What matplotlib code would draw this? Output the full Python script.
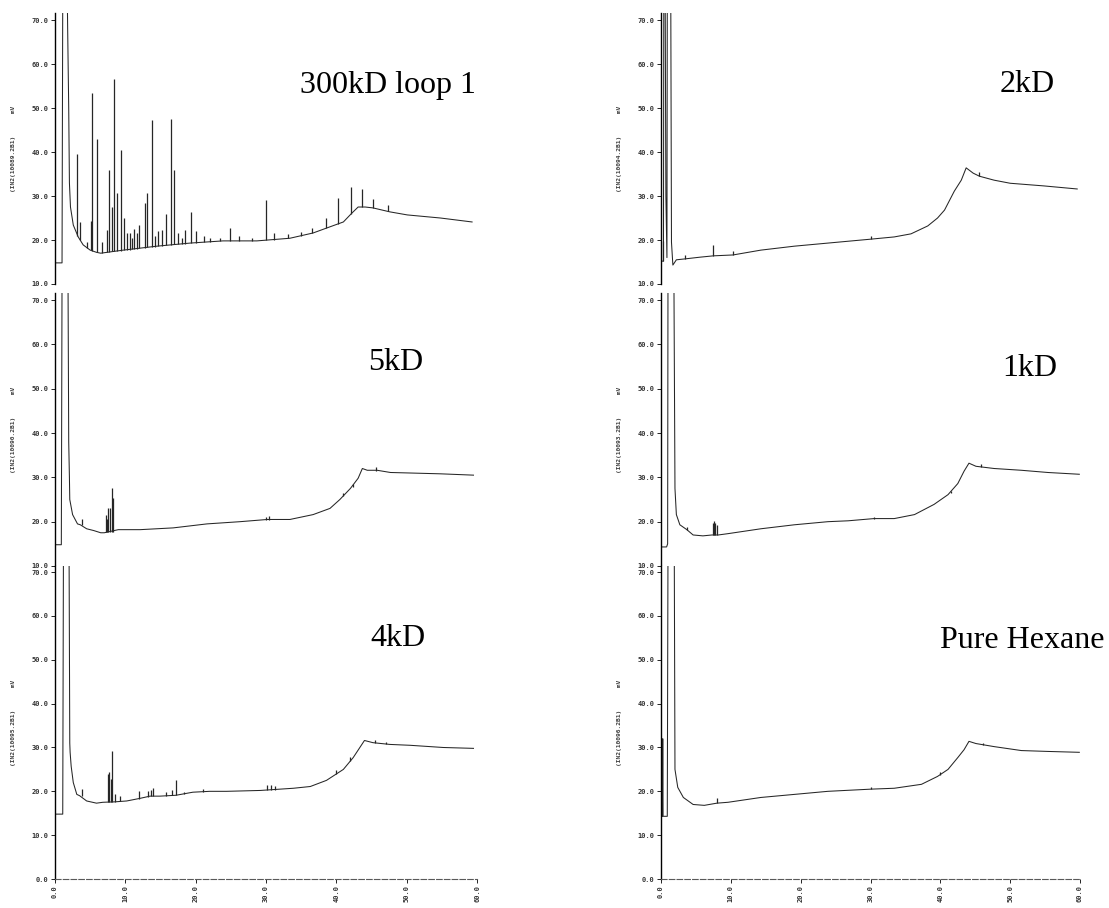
import matplotlib
matplotlib.use("Agg")
import matplotlib.pyplot as plt

W, H = 1109, 908

# retention time (min) / detector signal (mV)
# 300kD loop 1
b300_t = [0, 1.0, 1.1, 1.75, 1.8, 1.95, 2.05, 2.2, 2.6, 3.3, 4.0, 5.0, 5.9, 6.5, 9.7, 14.5,
          19.2, 23.9, 28.7, 33.4, 36.7, 39.1, 41.0, 42.2, 43.1, 44.1, 45.2, 47.6, 50.1, 54.8, 59.3]
b300_y = [14.8, 14.8, 75, 75, 68, 50, 33, 27.5, 23.4, 20.7, 18.9, 17.7, 17.2, 17.0, 17.7, 18.6,
          19.3, 19.8, 19.8, 20.4, 21.6, 23.0, 24.1, 26.1, 27.5, 27.5, 27.3, 26.4, 25.7, 25.0, 24.1]
p300_t = [3.1, 3.5, 4.6, 5.07, 5.3, 6.0, 6.7, 7.35, 7.7, 8.06, 8.4, 8.77, 9.4, 9.8, 10.2, 10.7,
          11.0, 11.3, 11.7, 12.0, 12.8, 13.1, 13.8, 14.2, 14.6, 15.2, 15.8, 16.5, 16.9, 17.5, 18.0,
          18.5, 19.4, 20.0, 21.2, 22.0, 23.5, 24.9, 26.2, 28.0, 30.0, 31.1, 33.1, 35.0, 36.6, 38.5,
          40.3, 42.1, 43.7, 45.2, 47.4]
p300_top = [39.5, 24.1, 19.5, 24.3, 53.4, 43.0, 19.5, 22.3, 36.0, 27.5, 56.5, 30.7, 40.5, 25.0, 21.5, 21.6,
            20.5, 22.5, 21.5, 23.5, 28.4, 30.7, 47.3, 21.0, 22.0, 22.3, 26.0, 47.5, 36.0, 21.5, 20.5,
            22.3, 26.4, 22.0, 21.0, 20.5, 20.5, 22.7, 20.8, 20.5, 29.0, 21.5, 21.3, 21.8, 22.8, 25.0,
            29.5, 32.0, 31.6, 29.3, 28.0]
p300_bot = [20.8, 20.0, 18.2, 17.7, 17.5, 17.2, 17.0, 17.2, 17.3, 17.4, 17.4, 17.5, 17.6, 17.7, 17.7, 17.8,
            17.9, 17.9, 18.0, 18.1, 18.2, 18.3, 18.4, 18.5, 18.6, 18.7, 18.8, 18.9, 19.0, 19.0, 19.1,
            19.1, 19.3, 19.4, 19.5, 19.6, 19.7, 19.8, 19.8, 19.8, 19.9, 20.0, 20.4, 21.0, 21.6, 22.8,
            23.6, 26.0, 27.5, 27.3, 26.5]

# 5kD
b5_t = [0, 0.9, 1.0, 1.85, 1.95, 2.05, 2.1, 2.5, 3.2, 3.6, 4.5, 5.5, 6.5, 7.0, 9.0, 12.1, 16.8,
        21.6, 26.3, 30.2, 33.4, 36.7, 39.1, 40.5, 42.0, 43.1, 43.7, 44.4, 45.8, 47.7, 50.1, 54.8, 59.5]
b5_y = [14.8, 14.8, 75, 75, 38, 30, 25, 21.6, 19.5, 19.3, 18.4, 18.0, 17.5, 17.5, 18.2, 18.2, 18.6,
        19.5, 20.0, 20.5, 20.5, 21.6, 23.0, 25.0, 27.5, 29.8, 32.0, 31.6, 31.6, 31.1, 31.0, 30.8, 30.5]
p5_t = [3.8, 7.25, 7.45, 7.6, 7.8, 8.05, 8.2, 30.0, 30.4, 41.0, 42.3, 45.7]
p5_top = [20.7, 21.6, 20.5, 23.0, 23.0, 27.5, 25.3, 21.1, 21.2, 26.5, 28.6, 32.3]
p5_bot = [19.3, 17.6, 17.6, 17.6, 17.6, 17.6, 17.6, 20.3, 20.4, 25.9, 27.9, 31.5]

# 4kD
b4_t = [0, 1.1, 1.2, 2.0, 2.1, 2.15, 2.3, 2.6, 3.1, 3.5, 4.5, 5.9, 6.8, 8.5, 10.2, 12.1, 13.5,
        14.9, 17.2, 19.6, 22.0, 24.4, 29.2, 33.9, 36.3, 38.6, 41.0, 42.4, 44.0, 45.2, 47.6, 50.5,
        55.2, 59.5]
b4_y = [14.8, 14.8, 75, 75, 31, 28.9, 25.7, 22.0, 19.3, 19.0, 17.8, 17.3, 17.5, 17.6, 17.8, 18.4, 18.9,
        18.9, 19.1, 19.8, 20.0, 20.0, 20.2, 20.7, 21.1, 22.5, 25.0, 27.7, 31.6, 31.1, 30.7, 30.5,
        30.0, 29.8]
p4_t = [3.8, 7.5, 7.7, 7.9, 8.15, 8.5, 9.2, 11.9, 13.2, 13.6, 14.0, 15.8, 16.6, 17.2, 18.4, 21.0,
        30.2, 30.7, 31.3, 40.0, 42.0, 45.5, 47.0]
p4_top = [20.5, 23.9, 24.3, 22.7, 29.3, 19.5, 19.0, 20.0, 20.0, 20.2, 20.7, 19.8, 20.2, 22.5, 19.9, 20.5,
          21.4, 21.4, 21.2, 24.8, 27.8, 31.6, 31.2]
p4_bot = [19.0, 17.5, 17.5, 17.5, 17.5, 17.6, 17.7, 18.3, 18.8, 18.9, 18.9, 19.0, 19.1, 19.1, 19.5, 19.9,
          20.3, 20.3, 20.4, 24.0, 27.0, 31.0, 30.8]

# 2kD
b2_t = [0, 0.35, 0.4, 0.6, 0.7, 0.85, 0.9, 1.4, 1.5, 1.7, 2.2, 3.4, 5.6, 7.5, 10.3, 14.3, 19.1,
        23.9, 30.1, 33.4, 35.8, 38.2, 39.6, 40.6, 42.0, 43.0, 43.7, 44.7, 45.6, 47.7, 50.0, 54.8, 59.6]
b2_y = [15.2, 15.2, 75, 75, 30, 16.0, 75, 75, 19.5, 14.3, 15.5, 15.7, 16.1, 16.4, 16.6, 17.7, 18.6,
        19.3, 20.2, 20.7, 21.4, 23.2, 25.0, 26.8, 31.1, 33.6, 36.4, 35.2, 34.5, 33.6, 32.9, 32.3, 31.6]
p2_t = [0.3, 3.4, 7.5, 10.3, 30.1, 45.6]
p2_top = [19.8, 16.6, 18.9, 17.5, 20.9, 35.5]
p2_bot = [15.2, 15.7, 16.4, 16.6, 20.2, 34.5]

# 1kD
b1_t = [0, 0.8, 0.95, 1.0, 1.85, 2.0, 2.2, 2.7, 3.7, 4.6, 6.0, 7.3, 8.2, 9.6, 14.3, 19.1, 23.9,
        26.8, 30.5, 33.4, 36.3, 39.1, 41.1, 42.5, 43.4, 44.1, 45.1, 47.7, 51.6, 55.4, 59.9]
b1_y = [14.3, 14.3, 15.0, 75, 75, 27.5, 21.6, 19.3, 18.2, 17.0, 16.8, 17.0, 17.0, 17.3, 18.4, 19.3, 20.0,
        20.2, 20.7, 20.7, 21.6, 23.9, 26.1, 28.6, 31.4, 33.2, 32.5, 32.0, 31.6, 31.1, 30.7]
p1_t = [3.7, 7.4, 7.6, 7.8, 8.0, 30.5, 41.5, 45.8]
p1_top = [18.9, 19.6, 20.2, 19.8, 19.2, 21.1, 27.0, 33.0]
p1_bot = [18.2, 17.0, 17.0, 17.0, 17.0, 20.7, 26.5, 32.3]

# Pure Hexane
bh_t = [0, 0.2, 0.25, 0.3, 0.9, 1.0, 1.9, 2.0, 2.4, 3.2, 4.6, 6.2, 8.0, 9.6, 14.3, 19.1, 23.9,
        30.1, 33.4, 37.3, 39.6, 41.1, 42.5, 43.4, 44.1, 45.1, 47.7, 51.6, 55.4, 59.9]
bh_y = [14.3, 14.3, 32.0, 14.3, 14.3, 75, 75, 25.0, 20.9, 18.6, 17.0, 16.8, 17.3, 17.5, 18.6, 19.3, 20.0,
        20.5, 20.7, 21.6, 23.4, 25.0, 27.7, 29.5, 31.4, 30.9, 30.2, 29.3, 29.1, 28.9]
ph_t = [8.0, 30.1, 40.0, 46.1]
ph_top = [18.4, 20.9, 24.3, 31.1]
ph_bot = [17.3, 20.5, 23.8, 30.6]

x_ticks = [0, 10, 20, 30, 40, 50, 60]
y_ticks = [0, 10, 20, 30, 40, 50, 60, 70]

panels = [
    # label, file tag, baseline, peaks, column, row
    ("300kD loop 1", "(IN2(10089.2B1)", b300_t, b300_y, p300_t, p300_bot, p300_top, 0, 0),
    ("5kD", "(IN2(10090.2B1)", b5_t, b5_y, p5_t, p5_bot, p5_top, 0, 1),
    ("4kD", "(IN2(10095.2B1)", b4_t, b4_y, p4_t, p4_bot, p4_top, 0, 2),
    ("2kD", "(IN2(10094.2B1)", b2_t, b2_y, p2_t, p2_bot, p2_top, 1, 0),
    ("1kD", "(IN2(10093.2B1)", b1_t, b1_y, p1_t, p1_bot, p1_top, 1, 1),
    ("Pure Hexane", "(IN2(10096.2B1)", bh_t, bh_y, ph_t, ph_bot, ph_top, 1, 2),
]

# pixel layout of the scan
col_x = [(55, 477), (661, 1080)]
row_y = [(13, 284, 10, 71.6), (293, 566, 10, 71.6), (566, 879, 0, 71.4)]
ylab_x = [14, 620]
name_pos = {"300kD loop 1": (300, 85), "5kD": (368, 363), "4kD": (370, 639),
            "2kD": (1000, 85), "1kD": (1002, 368), "Pure Hexane": (940, 640)}

fig = plt.figure(figsize=(W / 100, H / 100), dpi=100)
tick_font = dict(family="DejaVu Sans Mono", size=5, weight="bold", color="0.2")

for name, tag, bt, by, pt, pb, ptop, col, row in panels:
    x0, x1 = col_x[col]
    top, bot, ylo, yhi = row_y[row]
    ax = fig.add_axes([x0 / W, 1 - bot / H, (x1 - x0) / W, (bot - top) / H])
    ax.plot(bt, by, color="0.15", lw=0.75)
    ax.vlines(pt, pb, ptop, color="0.15", lw=0.9)
    ax.set_xlim(0, 60)
    ax.set_ylim(ylo, yhi)

    yt = [v for v in y_ticks if v >= ylo]
    ax.set_yticks(yt)
    ax.set_yticklabels([f"{v:.1f}" for v in yt], fontdict=tick_font)
    ax.tick_params(axis="y", direction="out", length=3, width=0.6, pad=1.5)

    for s in ["top", "right"]:
        ax.spines[s].set_visible(False)
    ax.spines["left"].set_linewidth(1.0)

    if row == 2:
        ax.set_xticks(x_ticks)
        ax.set_xticklabels([f"{v:.1f}" for v in x_ticks], fontdict=tick_font, rotation=90)
        ax.tick_params(axis="x", direction="out", length=3, width=0.6, pad=1.5)
        ax.spines["bottom"].set_color("0.35")
        ax.spines["bottom"].set_linewidth(0.8)
        ax.spines["bottom"].set_linestyle((0, (5, 2)))
    else:
        ax.set_xticks([])
        ax.spines["bottom"].set_visible(False)

    # rotated file tag with unit
    fig.text(ylab_x[col] / W, 1 - (top + bot) / 2 / H, tag + "      mV", rotation=90,
             ha="center", va="center", family="DejaVu Sans Mono", size=4.5,
             weight="bold", color="0.25")

    nx, ny = name_pos[name]
    fig.text(nx / W, 1 - ny / H, name, ha="left", va="center",
             family="Liberation Serif", size=23, color="black")

fig.savefig("out.png", dpi=100, facecolor="white")
